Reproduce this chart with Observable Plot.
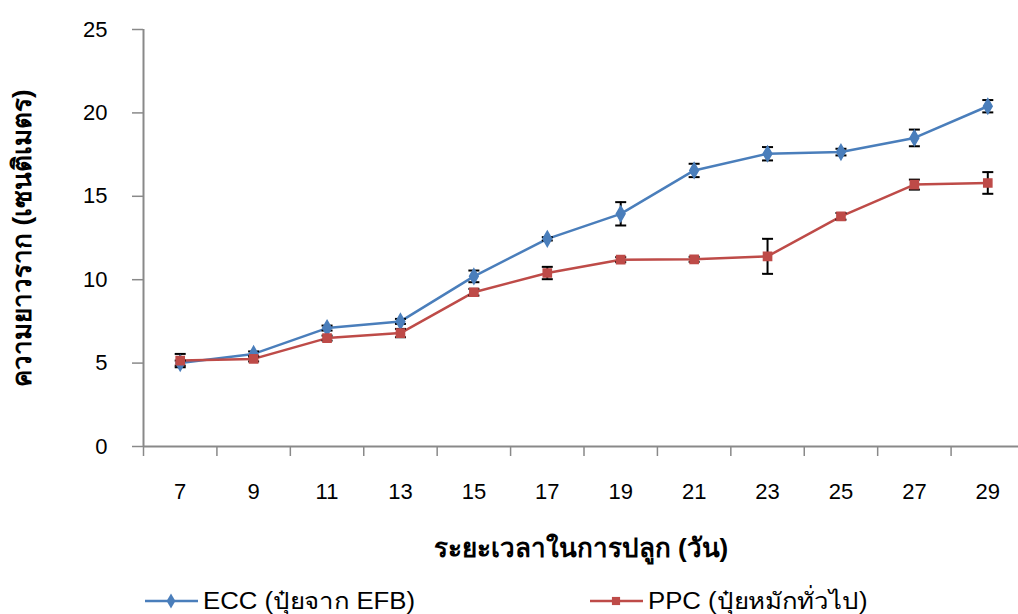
<!DOCTYPE html>
<html>
<head>
<meta charset="utf-8">
<script src="https://cdn.jsdelivr.net/npm/d3@7"></script>
<script src="https://cdn.jsdelivr.net/npm/@observablehq/plot@0.6"></script>
<style>
  body { margin: 0; background: #fff; font-family: "Liberation Sans", Arial, "Noto Sans", sans-serif; }
  #chart { width: 1018px; }
  .legend { position: relative; height: 49px; font-size: 23px; color: #000; }
  .legend .item { position: absolute; top: 18px; display: flex; align-items: center; white-space: nowrap; }
  .legend svg { display: block; }
  .legend span { display: inline-block; transform: scaleX(1.12); transform-origin: left center; margin-left: 3px; }
</style>
</head>
<body>
<div id="chart"></div>
<script>
// ---- data ----
const days = [7, 9, 11, 13, 15, 17, 19, 21, 23, 25, 27, 29];
const eccValues = [5.0, 5.55, 7.1, 7.5, 10.2, 12.45, 13.95, 16.55, 17.55, 17.65, 18.5, 20.4];
const eccErrors = [0.15, 0.15, 0.15, 0.15, 0.35, 0.1, 0.7, 0.4, 0.4, 0.2, 0.5, 0.37];
const ppcValues = [5.15, 5.25, 6.5, 6.8, 9.25, 10.4, 11.2, 11.22, 11.4, 13.8, 15.7, 15.8];
const ppcErrors = [0.4, 0.15, 0.15, 0.25, 0.2, 0.37, 0.15, 0.15, 1.05, 0.2, 0.3, 0.65];
const seriesNames = ["ECC (ปุ๋ยจาก EFB)", "PPC (ปุ๋ยหมักทั่วไป)"];
const yTicks = [0, 5, 10, 15, 20, 25];
const xBoundaryTicks = [6, 8, 10, 12, 14, 16, 18, 20, 22, 24, 26, 28];
const yLabel = "ความยาวราก (เซนติเมตร)";
const xLabel = "ระยะเวลาในการปลูก (วัน)";

const colors = {ECC: "#4a7ebb", PPC: "#be4b48"};

const rows = [];
days.forEach((d, i) => {
  rows.push({series: "ECC", day: d, value: eccValues[i], err: eccErrors[i]});
  rows.push({series: "PPC", day: d, value: ppcValues[i], err: ppcErrors[i]});
});

const capSymbol = {
  draw(ctx, size) {
    const w = Math.sqrt(size / Math.PI);
    ctx.moveTo(-w, 0);
    ctx.lineTo(w, 0);
  }
};

const fontFamily = '"Liberation Sans", Arial, "Noto Sans", sans-serif';

const chart = Plot.plot({
  width: 1018,
  height: 565,
  marginLeft: 143,
  marginRight: 0,
  marginTop: 29,
  marginBottom: 119,
  style: {fontFamily, fontSize: "22px", color: "#000", background: "#fff"},
  x: {domain: [6, 30], range: [143, 1024]},
  y: {domain: [0, 25]},
  color: {domain: ["ECC", "PPC"], range: [colors.ECC, colors.PPC]},
  marks: [
    Plot.axisY({ticks: yTicks, tickSize: 11, tickPadding: 25, stroke: "#898989", strokeWidth: 1.5,
      fontSize: 22, label: yLabel, labelAnchor: "center", labelOffset: 131, labelArrow: "none"}),
    Plot.axisX({ticks: xBoundaryTicks, tickSize: 10, tickFormat: () => "", stroke: "#898989", strokeWidth: 1.5, label: null}),
    Plot.axisX({ticks: days, tickSize: 0, tickPadding: 37, fontSize: 22, label: xLabel,
      labelAnchor: "center", labelOffset: 110, labelArrow: "none"}),
    Plot.ruleX([6], {stroke: "#898989", strokeWidth: 2}),
    Plot.ruleY([0], {stroke: "#898989", strokeWidth: 2}),
    Plot.line(rows, {x: "day", y: "value", stroke: "series", strokeWidth: 2.5}),
    Plot.ruleX(rows, {x: "day", y1: d => d.value - d.err, y2: d => d.value + d.err, stroke: "#000", strokeWidth: 2}),
    Plot.dot(rows, {x: "day", y: d => d.value - d.err, symbol: capSymbol, r: 5.5, stroke: "#000", strokeWidth: 2, fill: "none"}),
    Plot.dot(rows, {x: "day", y: d => d.value + d.err, symbol: capSymbol, r: 5.5, stroke: "#000", strokeWidth: 2, fill: "none"}),
    Plot.dot(rows.filter(d => d.series === "ECC"), {x: "day", y: "value", symbol: "diamond", r: 4.6, fill: colors.ECC, stroke: colors.ECC}),
    Plot.dot(rows.filter(d => d.series === "PPC"), {x: "day", y: "value", symbol: "square", r: 4.6, fill: colors.PPC, stroke: colors.PPC})
  ]
});

// bold, larger axis titles
d3.select(chart).selectAll("[aria-label='y-axis label'] text, [aria-label='x-axis label'] text")
  .attr("font-weight", "bold").attr("font-size", 26);

const root = document.getElementById("chart");
root.appendChild(chart);

// legend
const legend = d3.select(root).append("div").attr("class", "legend");
const items = [
  {name: seriesNames[0], color: colors.ECC, symbol: "diamond", left: 145},
  {name: seriesNames[1], color: colors.PPC, symbol: "square", left: 590}
];
items.forEach(it => {
  const item = legend.append("div").attr("class", "item").style("left", it.left + "px");
  const sw = item.append("svg").attr("width", 55).attr("height", 20);
  sw.append("line").attr("x1", 0).attr("x2", 53).attr("y1", 10).attr("y2", 10)
    .attr("stroke", it.color).attr("stroke-width", 2.5);
  const sym = it.symbol === "diamond" ? d3.symbolDiamond : d3.symbolSquare;
  sw.append("path").attr("d", d3.symbol(sym, 4.6 * 4.6 * Math.PI)())
    .attr("transform", "translate(26,10)").attr("fill", it.color);
  item.append("span").text(it.name);
});
</script>
</body>
</html>
